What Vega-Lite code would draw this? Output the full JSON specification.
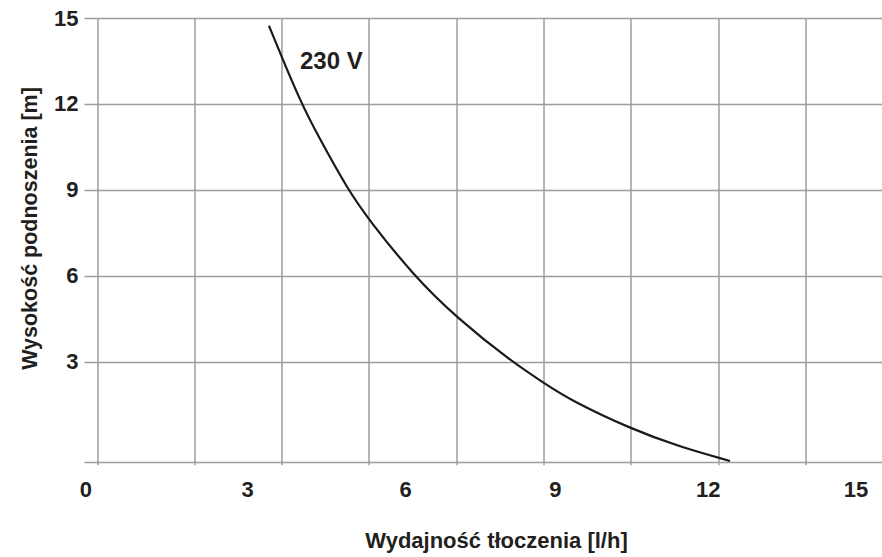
{
  "$schema": "https://vega.github.io/schema/vega-lite/v6.json",
  "width": 798,
  "height": 444,
  "autosize": {"type": "none"},
  "padding": {"left": 84, "top": 18, "right": 0, "bottom": 95},
  "background": "white",
  "config": {
    "view": {"stroke": null},
    "font": "Liberation Sans"
  },
  "datasets": {
    "curve": [
      {"flow": 3.464, "head": 14.731},
      {"flow": 3.718, "head": 13.615},
      {"flow": 4.102, "head": 12.0},
      {"flow": 4.394, "head": 10.978},
      {"flow": 5.005, "head": 9.0},
      {"flow": 5.414, "head": 7.953},
      {"flow": 6.292, "head": 6.0},
      {"flow": 7.131, "head": 4.535},
      {"flow": 8.204, "head": 3.0},
      {"flow": 8.828, "head": 2.267},
      {"flow": 9.335, "head": 1.675},
      {"flow": 10.525, "head": 0.663},
      {"flow": 11.48, "head": 0.035},
      {"flow": 12.456, "head": -0.453}
    ],
    "vgrid": [
      {"gx": 0.129}, {"gx": 2.021}, {"gx": 3.717}, {"gx": 5.414}, {"gx": 7.131},
      {"gx": 8.828}, {"gx": 10.525}, {"gx": 12.241}, {"gx": 13.938}
    ],
    "labels": [
      {"flow": 4.069, "head": 13.465, "text": "230 V"}
    ]
  },
  "layer": [
    {
      "data": {"name": "vgrid"},
      "mark": {"type": "rule", "color": "#9d9d9d", "strokeWidth": 1.5},
      "encoding": {
        "x": {"field": "gx", "type": "quantitative", "scale": {"domain": [-0.144, 15.42], "nice": false, "zero": false}},
        "y": {"datum": 15, "type": "quantitative"},
        "y2": {"datum": -0.6}
      }
    },
    {
      "data": {"name": "curve"},
      "mark": {"type": "line", "color": "#1a1a1a", "strokeWidth": 2.2, "interpolate": "basis"},
      "encoding": {
        "x": {
          "field": "flow", "type": "quantitative",
          "scale": {"domain": [-0.144, 15.42], "nice": false, "zero": false},
          "axis": {
            "values": [0, 3, 6, 9, 12, 15],
            "title": "Wydajność tłoczenia [l/h]",
            "grid": false, "ticks": false, "domain": false,
            "labelFont": "Liberation Sans", "labelFontSize": 22, "labelFontWeight": "bold", "labelColor": "#231f20",
            "labelPadding": 17,
            "labelOffset": {
              "condition": [
                {"test": "datum.value == 0", "value": -6},
                {"test": "datum.value == 3", "value": 2},
                {"test": "datum.value == 6", "value": 6},
                {"test": "datum.value == 9", "value": 2},
                {"test": "datum.value == 15", "value": -5}
              ],
              "value": 1
            },
            "titleFont": "Liberation Sans", "titleFontSize": 22, "titleFontWeight": "bold", "titleColor": "#231f20",
            "titlePadding": 30, "titleX": 412
          }
        },
        "y": {
          "field": "head", "type": "quantitative",
          "scale": {"domain": [-0.49, 15], "nice": false, "zero": false},
          "axis": {
            "values": [15, 12, 9, 6, 3, -0.49],
            "labelExpr": "datum.value < 0 ? '' : datum.label",
            "title": "Wysokość podnoszenia [m]",
            "grid": true, "gridColor": "#9d9d9d", "gridWidth": 1.5,
            "ticks": false, "domain": false,
            "labelFont": "Liberation Sans", "labelFontSize": 22, "labelFontWeight": "bold", "labelColor": "#231f20",
            "labelPadding": 6,
            "titleFont": "Liberation Sans", "titleFontSize": 21.5, "titleFontWeight": "bold", "titleColor": "#231f20",
            "titlePadding": 12, "titleY": 210
          }
        }
      }
    },
    {
      "data": {"name": "labels"},
      "mark": {"type": "text", "align": "left", "baseline": "middle", "font": "Liberation Sans", "fontSize": 24, "fontWeight": "bold", "color": "#231f20"},
      "encoding": {
        "x": {"field": "flow", "type": "quantitative"},
        "y": {"field": "head", "type": "quantitative"},
        "text": {"field": "text"}
      }
    }
  ]
}
